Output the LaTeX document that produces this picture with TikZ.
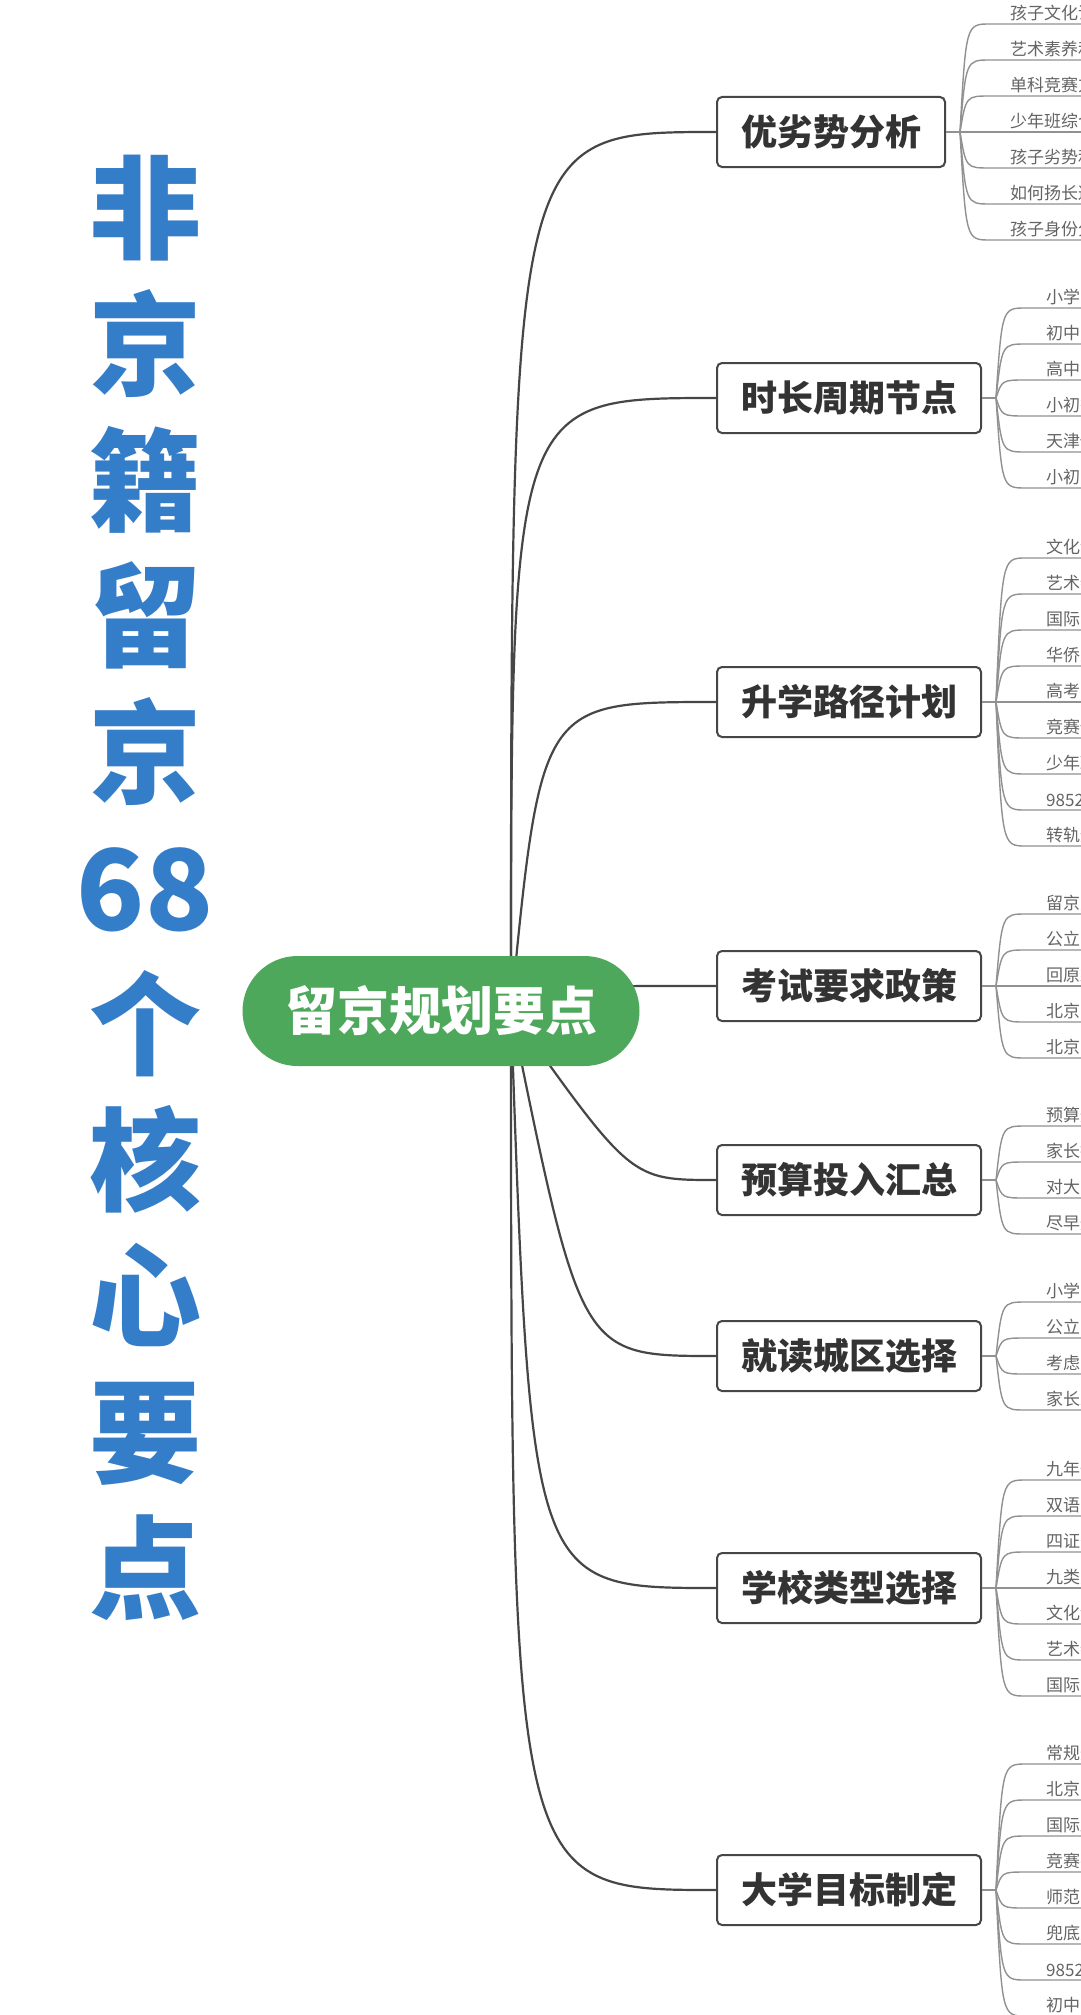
\documentclass[tikz,border=0pt]{standalone}
\usepackage{fontspec}
\setmainfont{Noto Sans CJK SC}
\usepackage{tikz}
\usetikzlibrary{positioning,calc,backgrounds}
\definecolor{titleblue}{RGB}{52,125,200}
\definecolor{pillgreen}{RGB}{78,168,92}
\definecolor{inkgray}{RGB}{51,51,51}
\definecolor{leafgray}{RGB}{100,100,100}
\definecolor{twiggray}{RGB}{145,145,145}
\definecolor{limbgray}{RGB}{70,70,70}
% leaves hanging off one fork: fork name, count, texts
\newcommand{\twigs}[3]{%
  \foreach \t [count=\i] in {#3} {
    \pgfmathsetmacro{\dy}{(\i-(#2+1)/2)*36}
    \node[leaf] (#1-\i) at ($(#1)+(50,\dy)$) {\t};
    \draw[twig] (#1) .. controls ($(#1)+(6,\dy)$) .. ($(#1)+(30,\dy)$)
      -- (#1-\i.south west) -- (#1-\i.south east);
  }}

\begin{document}
\begin{tikzpicture}[
    x=1pt, y=-1pt,
    title/.style={align=center,text=titleblue,inner sep=0pt,
                  font=\fontsize{112}{136}\selectfont\bfseries},
    hubnode/.style={rectangle,fill=pillgreen,text=white,rounded corners=55pt,
                    minimum width=397pt,minimum height=110pt,
                    font=\fontsize{52}{52}\selectfont\bfseries},
    branch/.style={rectangle,draw=limbgray,line width=2pt,rounded corners=5pt,
                   fill=white,anchor=west,minimum height=70pt,inner xsep=24pt,
                   text=inkgray,font=\fontsize{36}{36}\selectfont\bfseries},
    leaf/.style={anchor=south west,inner xsep=0pt,inner ysep=3pt,text=leafgray,
                 font=\fontsize{17}{17}\selectfont},
    limb/.style={draw=limbgray,line width=2.2pt},
    twig/.style={draw=twiggray,line width=1.4pt}
]
\useasboundingbox (0,0) rectangle (1080,2015);

\node[title] (title) at (145,888) {非\\京\\籍\\留\\京\\68\\个\\核\\心\\要\\点};

\node[hubnode] (plan) at (441,1011) {留京规划要点};
\coordinate (hub) at ($(plan.center)+(70,0)$);

\node[branch] (b1) at (716,132)  {优劣势分析};
\node[branch] (b2) at (716,398)  {时长周期节点};
\node[branch] (b3) at (716,702)  {升学路径计划};
\node[branch] (b4) at (716,986)  {考试要求政策};
\node[branch] (b5) at (716,1180) {预算投入汇总};
\node[branch] (b6) at (716,1356) {就读城区选择};
\node[branch] (b7) at (716,1588) {学校类型选择};
\node[branch] (b8) at (716,1890) {大学目标制定};

\begin{scope}[on background layer]
  \fill[white] (0,0) rectangle (1080,2015);
  \foreach \b/\d in {b1/0,b2/0,b3/30,b4/0,b5/120,b6/70,b7/20,b8/0}
    \draw[limb] (hub) .. controls ($(hub |- \b.west)+(\d,0)$) .. (\b.west);
\end{scope}

\foreach \b in {1,...,8} {
  \coordinate (f\b) at ($(b\b.east)+(14,0)$);
  \draw[twig] (b\b.east) -- (f\b);
}

\twigs{f1}{7}{孩子文化课,艺术素养和,单科竞赛方,少年班综合,孩子劣势和,如何扬长避,孩子身份分}
\twigs{f2}{6}{小学阶,初中阶,高中阶,小初衔,天津借,小初高}
\twigs{f3}{9}{文化课,艺术特,国际学,华侨生,高考中,竞赛保,少年班,985211,转轨通}
\twigs{f4}{5}{留京方,公立学,回原籍,北京中,北京高}
\twigs{f5}{4}{预算规,家长投,对大学,尽早规}
\twigs{f6}{4}{小学阶,公立民,考虑学,家长工}
\twigs{f7}{7}{九年一,双语学,四证齐,九类人,文化课,艺术特,国际学}
\twigs{f8}{8}{常规升,北京高,国际路,竞赛强,师范院,兜底大,985211,初中阶}
\end{tikzpicture}
\end{document}
